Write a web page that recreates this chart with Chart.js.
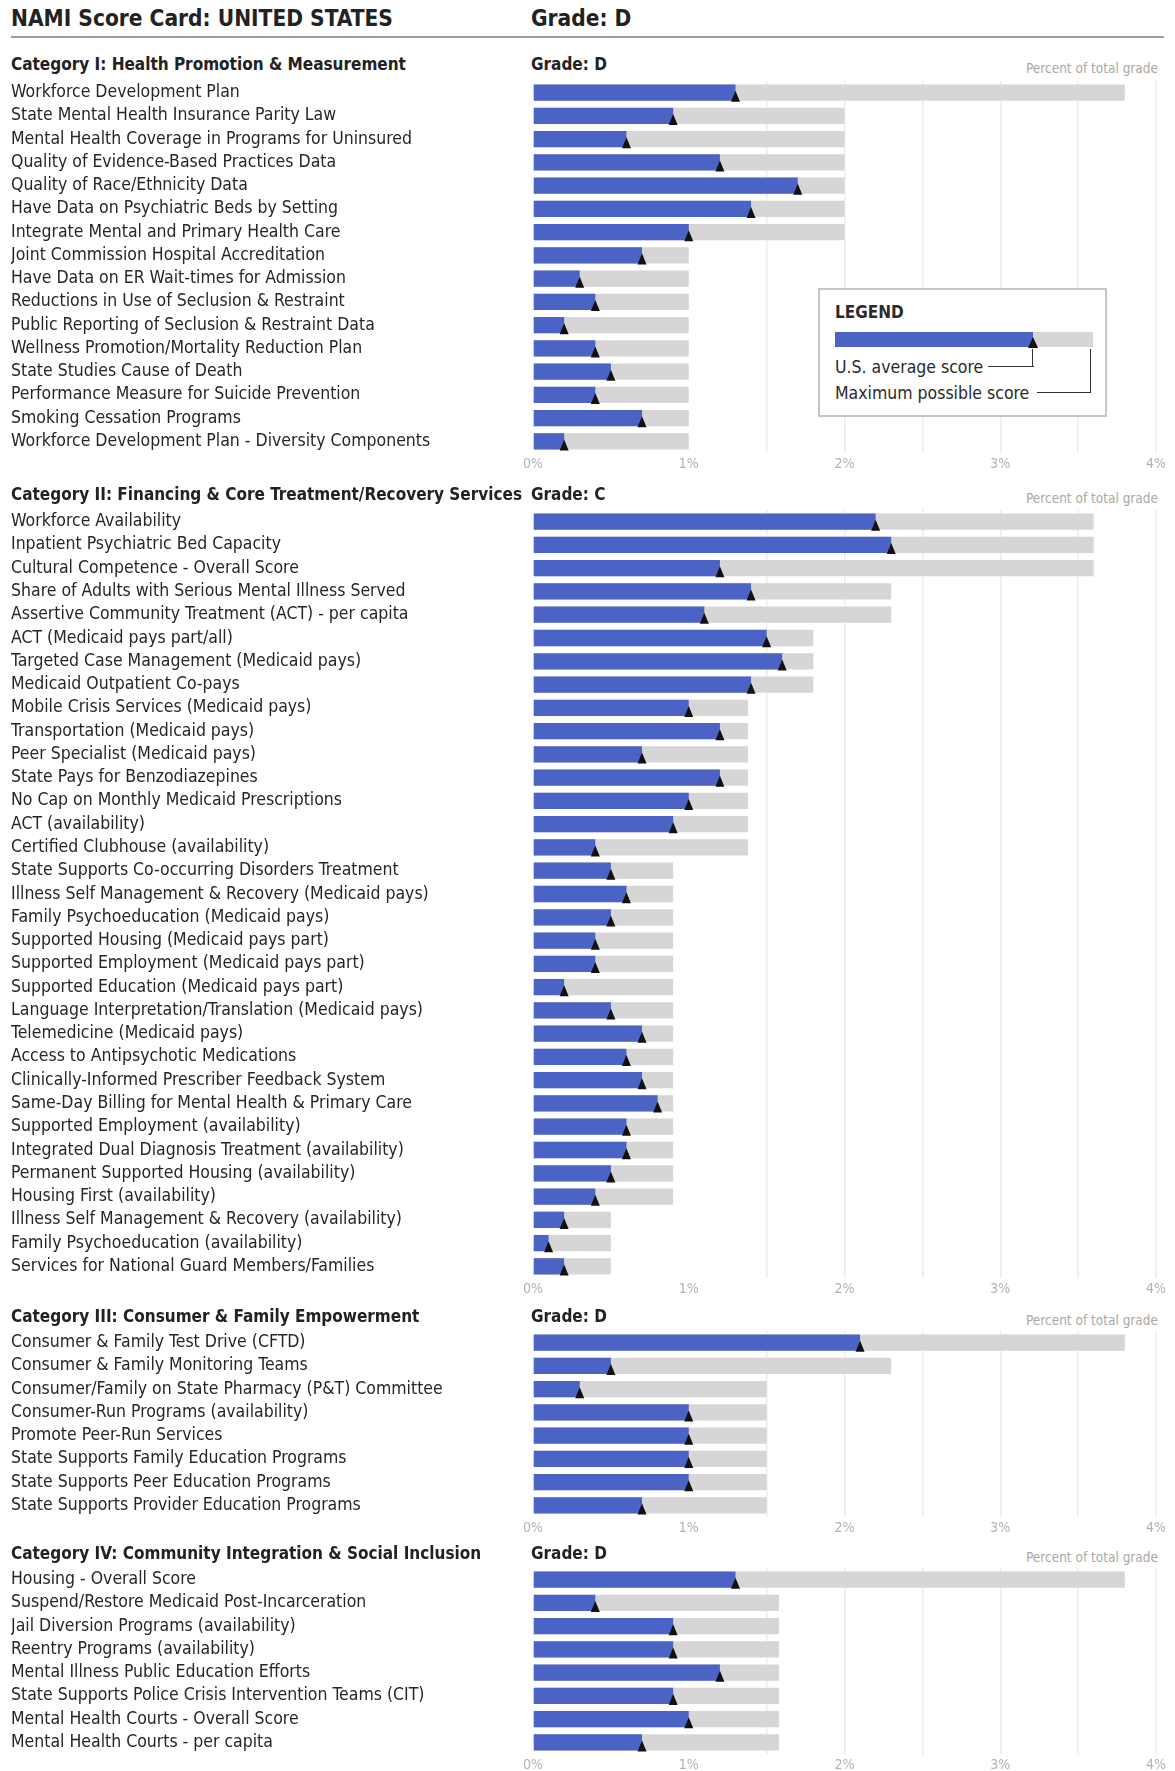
<!DOCTYPE html>
<html>
<head>
<meta charset="utf-8">
<script src="https://cdn.jsdelivr.net/npm/chart.js@4.4.1/dist/chart.umd.min.js"></script>
<style>
  body {
    margin: 0;
    width: 1175px;
    height: 1771px;
    position: relative;
    overflow: hidden;
    background: #fff;
    color: #252525;
    font-family: 'DejaVu Sans Condensed', sans-serif;
  }
  .txt { position: absolute; white-space: nowrap; }
  .title { font-size: 22.5px; font-weight: bold; line-height: 32px; color: #222; }
  .head { font-size: 17px; font-weight: bold; line-height: 26px; color: #222; }
  .pct { font-size: 13.5px; line-height: 20px; color: #a8a8a8; text-align: right; }
  .rule { position: absolute; left: 11px; width: 1153px; top: 36px; border-top: 2px solid #9c9c9c; }
  .box { position: absolute; left: 0; width: 1175px; }
  .legend { position: absolute; left: 818px; top: 288px; width: 289px; height: 129px; box-sizing: border-box; border: 2px solid #c6c6c6; background: #fff; }
  .lg { position: absolute; }
  .lgtxt { position: absolute; white-space: nowrap; font-size: 17.5px; line-height: 24px; color: #2a2a2a; }
</style>
</head>
<body>
<div class="txt title" style="left:11px; top:2px;">NAMI Score Card: UNITED STATES</div>
<div class="txt title" style="left:531px; top:2px;">Grade: D</div>
<div class="rule"></div>

<div class="txt head" style="left:11px; top:51px;">Category I: Health Promotion &amp; Measurement</div>
<div class="txt head" style="left:531px; top:51px;">Grade: D</div>
<div class="txt pct" style="right:17px; top:58px;">Percent of total grade</div>
<div class="box" style="top:81px; height:402px;"><canvas id="cat1"></canvas></div>

<div class="txt head" style="left:11px; top:481px;">Category II: Financing &amp; Core Treatment/Recovery Services</div>
<div class="txt head" style="left:531px; top:481px;">Grade: C</div>
<div class="txt pct" style="right:17px; top:488px;">Percent of total grade</div>
<div class="box" style="top:510px; height:798px;"><canvas id="cat2"></canvas></div>

<div class="txt head" style="left:11px; top:1303px;">Category III: Consumer &amp; Family Empowerment</div>
<div class="txt head" style="left:531px; top:1303px;">Grade: D</div>
<div class="txt pct" style="right:17px; top:1310px;">Percent of total grade</div>
<div class="box" style="top:1331px; height:216px;"><canvas id="cat3"></canvas></div>

<div class="txt head" style="left:11px; top:1540px;">Category IV: Community Integration &amp; Social Inclusion</div>
<div class="txt head" style="left:531px; top:1540px;">Grade: D</div>
<div class="txt pct" style="right:17px; top:1547px;">Percent of total grade</div>
<div class="box" style="top:1568px; height:216px;"><canvas id="cat4"></canvas></div>

<div class="legend"></div>
<div class="lgtxt" style="left:835px; top:300px; font-weight:bold; font-size:17px;">LEGEND</div>
<div class="lg" style="left:835px; top:332px; width:198px; height:15px; background:#4b63c4;"></div>
<div class="lg" style="left:1033px; top:332px; width:60px; height:15px; background:#d6d6d6;"></div>
<div class="lg" style="left:1028px; top:337px; width:0; height:0; border-left:5px solid transparent; border-right:5px solid transparent; border-bottom:11px solid #111;"></div>
<div class="lgtxt" style="left:835px; top:355px;">U.S. average score</div>
<div class="lg" style="left:988px; top:366px; width:46px; border-top:1.5px solid #333;"></div>
<div class="lg" style="left:1032px; top:349px; height:18px; border-left:1.5px solid #333;"></div>
<div class="lgtxt" style="left:835px; top:381px;">Maximum possible score</div>
<div class="lg" style="left:1037px; top:392px; width:54px; border-top:1.5px solid #333;"></div>
<div class="lg" style="left:1090px; top:349px; height:44px; border-left:1.5px solid #333;"></div>

<script>
const cat1Labels = [
  'Workforce Development Plan',
  'State Mental Health Insurance Parity Law',
  'Mental Health Coverage in Programs for Uninsured',
  'Quality of Evidence-Based Practices Data',
  'Quality of Race/Ethnicity Data',
  'Have Data on Psychiatric Beds by Setting',
  'Integrate Mental and Primary Health Care',
  'Joint Commission Hospital Accreditation',
  'Have Data on ER Wait-times for Admission',
  'Reductions in Use of Seclusion & Restraint',
  'Public Reporting of Seclusion & Restraint Data',
  'Wellness Promotion/Mortality Reduction Plan',
  'State Studies Cause of Death',
  'Performance Measure for Suicide Prevention',
  'Smoking Cessation Programs',
  'Workforce Development Plan - Diversity Components',
];
const cat1Avg = [1.3, 0.9, 0.6, 1.2, 1.7, 1.4, 1.0, 0.7, 0.3, 0.4, 0.2, 0.4, 0.5, 0.4, 0.7, 0.2];
const cat1Max = [3.8, 2.0, 2.0, 2.0, 2.0, 2.0, 2.0, 1.0, 1.0, 1.0, 1.0, 1.0, 1.0, 1.0, 1.0, 1.0];

const cat2Labels = [
  'Workforce Availability',
  'Inpatient Psychiatric Bed Capacity',
  'Cultural Competence - Overall Score',
  'Share of Adults with Serious Mental Illness Served',
  'Assertive Community Treatment (ACT) - per capita',
  'ACT (Medicaid pays part/all)',
  'Targeted Case Management (Medicaid pays)',
  'Medicaid Outpatient Co-pays',
  'Mobile Crisis Services (Medicaid pays)',
  'Transportation (Medicaid pays)',
  'Peer Specialist (Medicaid pays)',
  'State Pays for Benzodiazepines',
  'No Cap on Monthly Medicaid Prescriptions',
  'ACT (availability)',
  'Certified Clubhouse (availability)',
  'State Supports Co-occurring Disorders Treatment',
  'Illness Self Management & Recovery (Medicaid pays)',
  'Family Psychoeducation (Medicaid pays)',
  'Supported Housing (Medicaid pays part)',
  'Supported Employment (Medicaid pays part)',
  'Supported Education (Medicaid pays part)',
  'Language Interpretation/Translation (Medicaid pays)',
  'Telemedicine (Medicaid pays)',
  'Access to Antipsychotic Medications',
  'Clinically-Informed Prescriber Feedback System',
  'Same-Day Billing for Mental Health & Primary Care',
  'Supported Employment (availability)',
  'Integrated Dual Diagnosis Treatment (availability)',
  'Permanent Supported Housing (availability)',
  'Housing First (availability)',
  'Illness Self Management & Recovery (availability)',
  'Family Psychoeducation (availability)',
  'Services for National Guard Members/Families',
];
const cat2Avg = [2.2, 2.3, 1.2, 1.4, 1.1, 1.5, 1.6, 1.4, 1.0, 1.2, 0.7, 1.2, 1.0, 0.9, 0.4, 0.5, 0.6,
  0.5, 0.4, 0.4, 0.2, 0.5, 0.7, 0.6, 0.7, 0.8, 0.6, 0.6, 0.5, 0.4, 0.2, 0.1, 0.2];
const cat2Max = [3.6, 3.6, 3.6, 2.3, 2.3, 1.8, 1.8, 1.8, 1.38, 1.38, 1.38, 1.38, 1.38, 1.38, 1.38, 0.9, 0.9,
  0.9, 0.9, 0.9, 0.9, 0.9, 0.9, 0.9, 0.9, 0.9, 0.9, 0.9, 0.9, 0.9, 0.5, 0.5, 0.5];

const cat3Labels = [
  'Consumer & Family Test Drive (CFTD)',
  'Consumer & Family Monitoring Teams',
  'Consumer/Family on State Pharmacy (P&T) Committee',
  'Consumer-Run Programs (availability)',
  'Promote Peer-Run Services',
  'State Supports Family Education Programs',
  'State Supports Peer Education Programs',
  'State Supports Provider Education Programs',
];
const cat3Avg = [2.1, 0.5, 0.3, 1.0, 1.0, 1.0, 1.0, 0.7];
const cat3Max = [3.8, 2.3, 1.5, 1.5, 1.5, 1.5, 1.5, 1.5];

const cat4Labels = [
  'Housing - Overall Score',
  'Suspend/Restore Medicaid Post-Incarceration',
  'Jail Diversion Programs (availability)',
  'Reentry Programs (availability)',
  'Mental Illness Public Education Efforts',
  'State Supports Police Crisis Intervention Teams (CIT)',
  'Mental Health Courts - Overall Score',
  'Mental Health Courts - per capita',
];
const cat4Avg = [1.3, 0.4, 0.9, 0.9, 1.2, 0.9, 1.0, 0.7];
const cat4Max = [3.8, 1.58, 1.58, 1.58, 1.58, 1.58, 1.58, 1.58];

const BLUE = '#4b63c4';
const GRAY = '#d6d6d6';

Chart.defaults.font.family = "'DejaVu Sans Condensed', sans-serif";

// black triangle under the end of each average bar
const avgMarker = {
  id: 'avgMarker',
  afterDatasetsDraw(chart) {
    const c = chart.ctx;
    c.save();
    c.fillStyle = '#111';
    chart.getDatasetMeta(0).data.forEach((bar) => {
      const bottom = bar.y + bar.height / 2 + 1;
      c.beginPath();
      c.moveTo(bar.x, bottom - 11);
      c.lineTo(bar.x + 4.5, bottom);
      c.lineTo(bar.x - 4.5, bottom);
      c.closePath();
      c.fill();
    });
    c.restore();
  },
};

function drawScoreChart(element, labels, avg, max) {
  const ctx = document.getElementById(element);
  return new Chart(ctx, {
    type: 'bar',
    data: {
      labels,
      datasets: [
        {
          label: 'U.S. average score',
          data: avg,
          backgroundColor: BLUE,
          grouped: false,
          order: 0,
          barPercentage: 0.7,
          categoryPercentage: 1,
        },
        {
          label: 'Maximum possible score',
          data: max,
          backgroundColor: GRAY,
          grouped: false,
          order: 1,
          barPercentage: 0.7,
          categoryPercentage: 1,
        },
      ],
    },
    options: {
      indexAxis: 'y',
      responsive: true,
      maintainAspectRatio: false,
      animation: false,
      layout: { padding: { left: 11, right: 19, top: 0, bottom: 0 } },
      plugins: {
        legend: { display: false },
        tooltip: { enabled: false },
      },
      scales: {
        x: {
          min: 0,
          max: 4,
          border: { display: false },
          grid: {
            drawTicks: false,
            lineWidth: 1.5,
            color: (c) => (c.tick && c.tick.value > 1 ? '#ececec' : 'rgba(0,0,0,0)'),
          },
          ticks: {
            stepSize: 0.5,
            autoSkip: false,
            maxRotation: 0,
            padding: 3,
            color: '#b2b2b2',
            font: { size: 14 },
            callback: (v) => (Number.isInteger(v) ? v + '%' : ''),
          },
          afterFit: (scale) => { scale.height = 30; },
        },
        y: {
          border: { display: false },
          grid: { display: false },
          ticks: {
            crossAlign: 'far',
            autoSkip: false,
            padding: 0,
            color: '#262626',
            font: { size: 17.5 },
          },
          afterFit: (scale) => {
            scale.width = 522;
            // rows start right at the top of the box
            scale.paddingTop = 0;
            scale.paddingBottom = 0;
          },
        },
      },
    },
    plugins: [avgMarker],
  });
}

drawScoreChart('cat1', cat1Labels, cat1Avg, cat1Max);
drawScoreChart('cat2', cat2Labels, cat2Avg, cat2Max);
drawScoreChart('cat3', cat3Labels, cat3Avg, cat3Max);
drawScoreChart('cat4', cat4Labels, cat4Avg, cat4Max);
</script>
</body>
</html>
